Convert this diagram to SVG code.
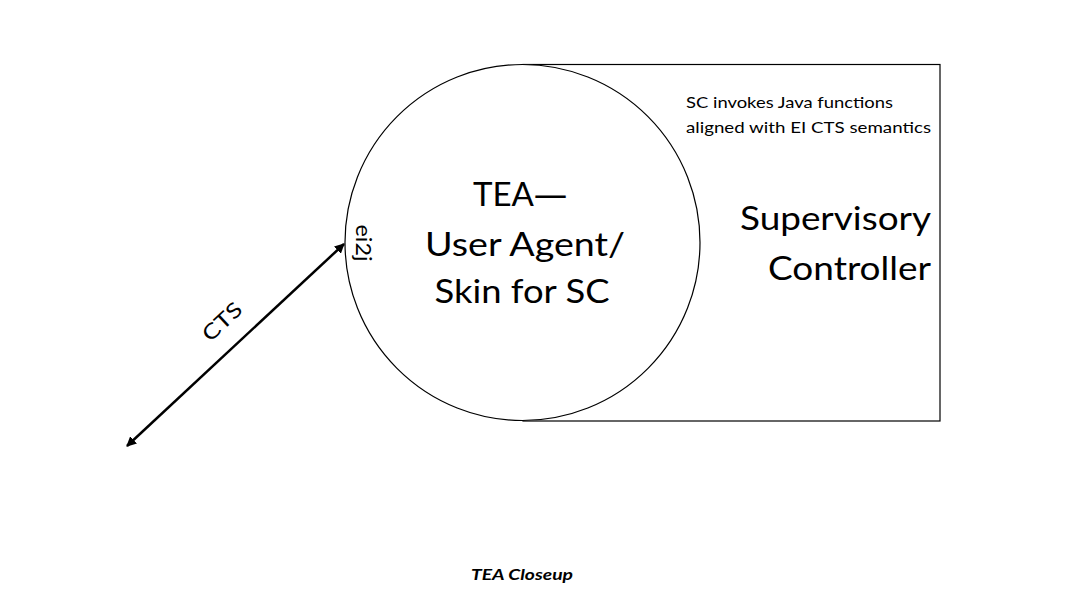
<svg xmlns="http://www.w3.org/2000/svg" width="1080" height="608" viewBox="0 0 1080 608">
<style>
text{font-family:Lato,"Open Sans","Liberation Sans",sans-serif;fill:#000}
.big{font-size:33px}
.small{font-size:16px}
.lbl{font-size:21px}
.dash{font-family:"Open Sans","Liberation Sans",sans-serif}
.shape{fill:#fff;stroke:#000;stroke-width:1.2}
</style>
<defs>
<marker id="ah" viewBox="0 0 10 10" refX="9" refY="5" markerWidth="4" markerHeight="4" orient="auto-start-reverse" markerUnits="strokeWidth">
<path d="M0,0 L10,5 L0,10 z" fill="#000"/>
</marker>
</defs>
<rect width="1080" height="608" fill="#fff"/>
<g id="sc">
<rect class="shape" x="523" y="64.5" width="417" height="356.5"/>
<text class="small" x="686" y="108" textLength="207" lengthAdjust="spacingAndGlyphs">SC invokes Java functions</text>
<text class="small" x="686" y="133" textLength="245" lengthAdjust="spacingAndGlyphs">aligned with EI CTS semantics</text>
<text class="big" x="931" y="230" text-anchor="end" textLength="191" lengthAdjust="spacingAndGlyphs">Supervisory</text>
<text class="big" x="931" y="280" text-anchor="end" textLength="163" lengthAdjust="spacingAndGlyphs">Controller</text>
</g>
<g id="tea">
<ellipse class="shape" cx="522.5" cy="242.5" rx="177.5" ry="178"/>
<text class="big" x="520" y="206" text-anchor="middle" textLength="94" lengthAdjust="spacingAndGlyphs">TEA<tspan class="dash">—</tspan></text>
<text class="big" x="525" y="256" text-anchor="middle" textLength="200" lengthAdjust="spacingAndGlyphs">User Agent/</text>
<text class="big" x="522" y="303" text-anchor="middle" textLength="175" lengthAdjust="spacingAndGlyphs">Skin for SC</text>
<text class="lbl" transform="translate(356,243) rotate(90)" text-anchor="middle" textLength="37" lengthAdjust="spacingAndGlyphs">ei2j</text>
</g>
<g id="connectors">
<line x1="127" y1="446" x2="344" y2="244" stroke="#000" stroke-width="2.5" marker-start="url(#ah)" marker-end="url(#ah)"/>
<text class="lbl" transform="translate(227,327) rotate(-43)" text-anchor="middle" textLength="46" lengthAdjust="spacingAndGlyphs">CTS</text>
</g>
<text x="522" y="580" text-anchor="middle" font-size="16" font-weight="bold" font-style="italic" textLength="102" lengthAdjust="spacingAndGlyphs">TEA Closeup</text>
</svg>
